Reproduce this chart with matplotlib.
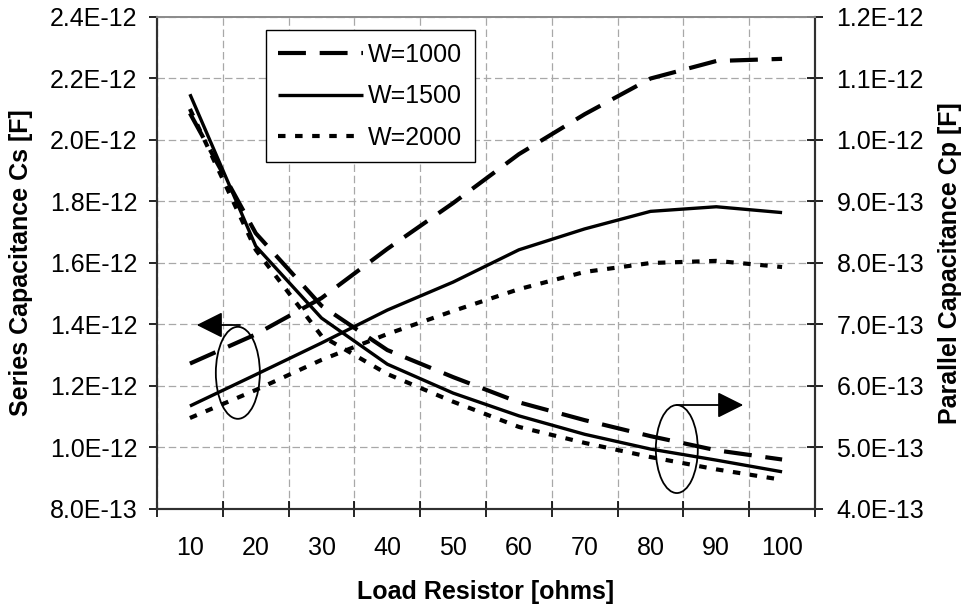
import numpy as np
import matplotlib
matplotlib.use("Agg")
import matplotlib.pyplot as plt
from matplotlib.patches import Ellipse
from matplotlib.ticker import FormatStrFormatter

plt.rcParams['font.family'] = ['Liberation Sans', 'DejaVu Sans']

# load resistor categories [ohms]
load = [10, 20, 30, 40, 50, 60, 70, 80, 90, 100]
widths = ["W=1000", "W=1500", "W=2000"]

# series capacitance Cs [F] (left axis)
cs_w1000 = np.array([1.272, 1.367, 1.485, 1.645, 1.794, 1.953, 2.083, 2.199, 2.256, 2.263]) * 1e-12
cs_w1500 = np.array([1.134, 1.236, 1.339, 1.446, 1.537, 1.642, 1.710, 1.767, 1.782, 1.763]) * 1e-12
cs_w2000 = np.array([1.095, 1.186, 1.284, 1.368, 1.443, 1.514, 1.570, 1.599, 1.606, 1.586]) * 1e-12

# parallel capacitance Cp [F] (right axis)
cp_w1000 = np.array([1.043, 0.848, 0.730, 0.658, 0.614, 0.573, 0.544, 0.518, 0.495, 0.480]) * 1e-12
cp_w1500 = np.array([1.074, 0.827, 0.710, 0.635, 0.588, 0.551, 0.521, 0.497, 0.479, 0.460]) * 1e-12
cp_w2000 = np.array([1.050, 0.821, 0.681, 0.619, 0.574, 0.533, 0.507, 0.484, 0.464, 0.447]) * 1e-12

STYLES = [dict(lw=3.0, dashes=(6.7, 3.3)), dict(lw=2.4), dict(lw=3.0, dashes=(1.8, 2.3))]
GRID = dict(color="#a8a8a8", lw=0.9, linestyle=(0, (6, 3)))

fig = plt.figure(figsize=(9.67, 6.08), dpi=100)
ax = fig.add_axes([0.1624, 0.1633, 0.6804, 0.8092])
ax2 = ax.twinx()

x = np.arange(len(load))
handles = []
for ys, st, lab in zip([cs_w1000, cs_w1500, cs_w2000], STYLES, widths):
    h, = ax.plot(x, ys, color="black", label=lab, solid_capstyle="butt", **st)
    handles.append(h)
for ys, st in zip([cp_w1000, cp_w1500, cp_w2000], STYLES):
    ax2.plot(x, ys, color="black", solid_capstyle="butt", **st)

ax.set_xlim(-0.5, len(load) - 0.5)
ax.set_xticks(x)
ax.set_xticklabels([str(v) for v in load])
ax.set_xticks(np.arange(-0.5, len(load), 1), minor=True)
ax.tick_params(axis="x", which="major", length=0, pad=20, labelsize=18)
ax.tick_params(axis="x", which="minor", direction="inout", length=11, width=1.2)

ax.set_ylim(0.8e-12, 2.4e-12)
ax.set_yticks(np.linspace(0.8e-12, 2.4e-12, 9))
ax.yaxis.set_major_formatter(FormatStrFormatter("%.1E"))
ax.tick_params(axis="y", direction="out", length=6, width=1.2, pad=8, labelsize=18)

ax2.set_ylim(0.4e-12, 1.2e-12)
ax2.set_yticks(np.linspace(0.4e-12, 1.2e-12, 9))
ax2.yaxis.set_major_formatter(FormatStrFormatter("%.1E"))
ax2.tick_params(axis="y", direction="inout", length=11, width=1.2, pad=10, labelsize=18)

ax.grid(axis="x", which="minor", **GRID)
ax.grid(axis="y", which="major", **GRID)
ax.set_axisbelow(True)

for a in (ax, ax2):
    a.spines["top"].set_color("#8c8c8c")
    a.spines["top"].set_linewidth(1.3)
    for s in ("left", "right", "bottom"):
        a.spines[s].set_color("#303030")
        a.spines[s].set_linewidth(1.5)

ax.set_xlabel("Load Resistor [ohms]", fontsize=18, weight="bold", labelpad=14)
ax.set_ylabel("Series Capacitance Cs [F]", fontsize=18, weight="bold", labelpad=12)
ax2.set_ylabel("Parallel Capacitance Cp [F]", fontsize=18, weight="bold", labelpad=10)

# ellipses + arrows marking which axis each group belongs to
ax2.add_patch(Ellipse((0.1228, 0.2762), 0.0669, 0.187, transform=ax2.transAxes,
                      fill=False, ec="black", lw=1.3, zorder=5))
ax2.annotate("", xy=(0.0603, 0.3734), xytext=(0.1261, 0.3734), xycoords="axes fraction",
             arrowprops=dict(arrowstyle="-|>,head_length=1.0,head_width=0.5", mutation_scale=16,
                             color="black", lw=1.3, shrinkA=0, shrinkB=0), zorder=5)
ax2.add_patch(Ellipse((0.790, 0.1213), 0.0638, 0.1789, transform=ax2.transAxes,
                      fill=False, ec="black", lw=1.3, zorder=5))
ax2.annotate("", xy=(0.891, 0.2108), xytext=(0.790, 0.2108), xycoords="axes fraction",
             arrowprops=dict(arrowstyle="-|>,head_length=1.0,head_width=0.5", mutation_scale=16,
                             color="black", lw=1.3, shrinkA=0, shrinkB=0), zorder=5)

leg = ax2.legend(handles, widths, loc="upper left", bbox_to_anchor=(0.165, 0.972), fontsize=18,
                 frameon=True, fancybox=False, edgecolor="black", framealpha=1, borderpad=0.5,
                 labelspacing=0.7, handlelength=3.4, handletextpad=0.2, borderaxespad=0)
leg.get_frame().set_linewidth(1.0)
leg.set_zorder(10)

fig.savefig("out.png", dpi=100)
